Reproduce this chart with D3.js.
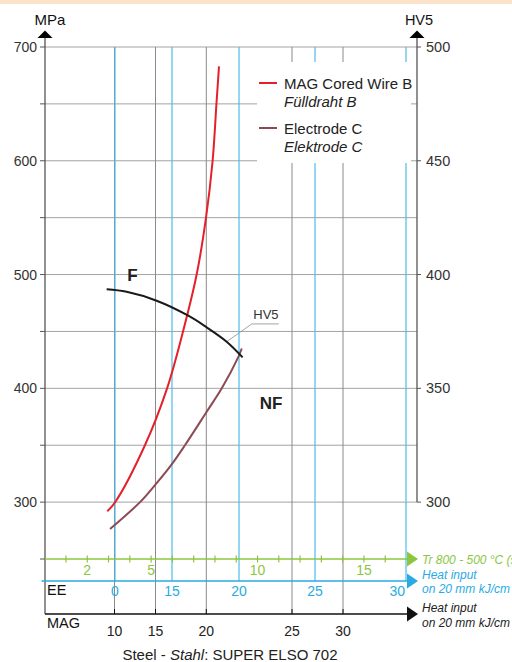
<!DOCTYPE html>
<html>
<head>
<meta charset="utf-8">
<script src="https://cdn.jsdelivr.net/npm/d3@7"></script>
<style>
  body { margin: 0; background: #fff; }
  svg { display: block; font-family: "Liberation Sans", Arial, Helvetica, sans-serif; }
</style>
</head>
<body>
<div id="chart"></div>
<script>
// tick values
const mpaTicks = [250, 300, 350, 400, 450, 500, 550, 600, 650, 700];
const mpaLabels = [300, 400, 500, 600, 700];
const hvLabels = [300, 350, 400, 450, 500];
const trTicks = [1, 2, 3, 4, 5, 6, 7, 8, 9, 10, 11, 12, 13, 14, 15, 16];
const trLabels = [2, 5, 10, 15];
const eeTicks = [0, 15, 20, 25, 30];
const magTicks = [10, 15, 20, 25, 30];

// curves: [Tr 800-500 (s), value]
const coredWireB = [[2.94, 292], [3.3, 299.7], [4.71, 350], [5.75, 400], [6.5, 450],
  [7.14, 500], [7.58, 550], [7.89, 600], [8.07, 650], [8.19, 683]];
const electrodeC = [[3.07, 276.3], [4.48, 300], [5.18, 314.9], [5.94, 332.5], [6.59, 350],
  [7.61, 379.4], [8.32, 400], [9.1, 427.7], [9.26, 435]];
const hardness = [[2.91, 393.5], [3.85, 392.4], [5.26, 388.5], [6.75, 381.9], [7.61, 376.8],
  [8.55, 370.5], [9.3, 363.6]];

const legendItems = [
  { name: 'MAG Cored Wire B', de: 'Fülldraht B', color: '#e5202a' },
  { name: 'Electrode C', de: 'Elektrode C', color: '#8c4a53' },
];

const W = 512, H = 662;
const green = '#8cc63f', blue = '#29abe2', gridGray = '#a3a3a3';

const svg = d3.select('#chart').append('svg').attr('width', W).attr('height', H);

svg.append('rect').attr('x', 0).attr('y', 0).attr('width', W).attr('height', 4).attr('fill', '#fbe4ca');

const xL = 45, xR = 417;
const y = d3.scaleLinear().domain([250, 700]).range([559, 47]);
const yHV = d3.scaleLinear().domain([275, 500]).range([559, 47]);
const xTr = d3.scaleLinear().domain([0, 17]).range([44.7, 406.5]);
const xEE = d3.scaleLinear().domain(eeTicks).range([115, 172, 239, 315, 406]);
const xMAG = d3.scaleLinear().domain(magTicks).range([114.5, 155.5, 206.3, 292, 343]);

const yEE = 581, yMAG = 614;

// horizontal grid
svg.append('g').selectAll('line').data(mpaTicks.filter(d => d > 250)).join('line')
  .attr('x1', xL).attr('x2', xR).attr('y1', d => y(d)).attr('y2', d => y(d))
  .attr('stroke', gridGray).attr('stroke-width', 1);

// vertical gray lines (MAG)
svg.append('g').selectAll('line').data(magTicks).join('line')
  .attr('x1', d => xMAG(d)).attr('x2', d => xMAG(d)).attr('y1', y(700)).attr('y2', yMAG)
  .attr('stroke', '#8a8a8a').attr('stroke-width', 1);

// vertical blue lines (EE)
svg.append('g').selectAll('line').data(eeTicks).join('line')
  .attr('x1', d => xEE(d)).attr('x2', d => xEE(d)).attr('y1', y(700)).attr('y2', yEE)
  .attr('stroke', '#4dbde9').attr('stroke-width', 1.2);

// legend box hides the grid
svg.append('rect').attr('x', 257).attr('y', 62).attr('width', 154).attr('height', 101).attr('fill', '#fff');

// left axis
svg.append('line').attr('x1', xL).attr('x2', xL).attr('y1', 37).attr('y2', yMAG).attr('stroke', '#555').attr('stroke-width', 1.3);
svg.append('g').selectAll('line').data(mpaTicks).join('line')
  .attr('x1', xL - 5).attr('x2', xL).attr('y1', d => y(d)).attr('y2', d => y(d)).attr('stroke', '#555');
svg.append('g').selectAll('text').data(mpaLabels).join('text')
  .attr('x', 37).attr('y', d => y(d) + 5).attr('text-anchor', 'end')
  .attr('font-size', 14).attr('fill', '#333').text(d => d);
svg.append('path').attr('d', `M${xL},30.5L${xL - 7.5},38L${xL + 7.5},38Z`).attr('fill', '#000');
svg.append('text').attr('x', 50).attr('y', 25).attr('text-anchor', 'middle').attr('font-size', 15).attr('fill', '#111').text('MPa');

// right axis
svg.append('line').attr('x1', xR).attr('x2', xR).attr('y1', 37).attr('y2', yHV(300)).attr('stroke', '#555').attr('stroke-width', 1.3);
svg.append('g').selectAll('line').data(hvLabels).join('line')
  .attr('x1', xR).attr('x2', xR + 4).attr('y1', d => yHV(d)).attr('y2', d => yHV(d)).attr('stroke', '#555');
svg.append('g').selectAll('text').data(hvLabels).join('text')
  .attr('x', 426).attr('y', d => yHV(d) + 5)
  .attr('font-size', 14.5).attr('fill', '#333').text(d => d);
svg.append('path').attr('d', `M${xR},30.5L${xR - 7.5},38L${xR + 7.5},38Z`).attr('fill', '#000');
svg.append('text').attr('x', 419).attr('y', 25).attr('text-anchor', 'middle').attr('font-size', 14.5).attr('fill', '#111').text('HV5');

// green Tr axis
const yTr = y(250);
svg.append('line').attr('x1', xL).attr('x2', 409).attr('y1', yTr).attr('y2', yTr).attr('stroke', green).attr('stroke-width', 1.3);
svg.append('g').selectAll('line').data(trTicks).join('line')
  .attr('x1', d => xTr(d)).attr('x2', d => xTr(d)).attr('y1', yTr - 3.5).attr('y2', yTr + 3.5)
  .attr('stroke', green).attr('stroke-width', 1.2);
svg.append('g').selectAll('text').data(trLabels).join('text')
  .attr('x', d => xTr(d)).attr('y', yTr + 16).attr('text-anchor', 'middle')
  .attr('font-size', 14).attr('fill', green).text(d => d);
svg.append('path').attr('d', `M418,${yTr}L407,${yTr - 7.5}L407,${yTr + 7.5}Z`).attr('fill', green);
svg.append('text').attr('x', 422).attr('y', yTr + 4.5).attr('font-size', 12).attr('font-style', 'italic')
  .attr('fill', green).text('Tr 800 - 500 °C (s)');

// blue EE axis
svg.append('line').attr('x1', 41.5).attr('x2', 409).attr('y1', yEE).attr('y2', yEE).attr('stroke', blue).attr('stroke-width', 1.3);
svg.append('g').selectAll('text').data(eeTicks).join('text')
  .attr('x', (d, i) => i === eeTicks.length - 1 ? xEE(d) - 1 : xEE(d)).attr('y', yEE + 15)
  .attr('text-anchor', (d, i) => i === eeTicks.length - 1 ? 'end' : 'middle')
  .attr('font-size', 14).attr('fill', blue).text(d => d);
svg.append('path').attr('d', `M418,${yEE}L407,${yEE - 7.5}L407,${yEE + 7.5}Z`).attr('fill', blue);
svg.append('text').attr('x', 47).attr('y', yEE + 14).attr('font-size', 14.5).attr('fill', '#111').text('EE');
const blueNote = svg.append('text').attr('font-size', 12).attr('font-style', 'italic').attr('fill', blue);
blueNote.append('tspan').attr('x', 422).attr('y', yEE - 2).text('Heat input');
blueNote.append('tspan').attr('x', 422).attr('y', yEE + 12).text('on 20 mm kJ/cm');

// MAG axis
svg.append('line').attr('x1', xL).attr('x2', 409).attr('y1', yMAG).attr('y2', yMAG).attr('stroke', '#111').attr('stroke-width', 1.3);
svg.append('g').selectAll('line').data(magTicks).join('line')
  .attr('x1', d => xMAG(d)).attr('x2', d => xMAG(d)).attr('y1', yMAG - 5).attr('y2', yMAG).attr('stroke', '#111');
svg.append('g').selectAll('text').data(magTicks).join('text')
  .attr('x', d => xMAG(d)).attr('y', yMAG + 22).attr('text-anchor', 'middle')
  .attr('font-size', 14).attr('fill', '#222').text(d => d);
svg.append('path').attr('d', `M418,${yMAG}L407,${yMAG - 7.5}L407,${yMAG + 7.5}Z`).attr('fill', '#111');
svg.append('text').attr('x', 47).attr('y', yMAG + 14).attr('font-size', 14.5).attr('fill', '#111').text('MAG');
const blackNote = svg.append('text').attr('font-size', 12).attr('font-style', 'italic').attr('fill', '#222');
blackNote.append('tspan').attr('x', 422).attr('y', yMAG - 2).text('Heat input');
blackNote.append('tspan').attr('x', 422).attr('y', yMAG + 13).text('on 20 mm kJ/cm');

// curves
const smooth = d3.curveCatmullRom.alpha(0.5);
const lineMPa = d3.line().x(d => xTr(d[0])).y(d => y(d[1])).curve(smooth);
const lineHV = d3.line().x(d => xTr(d[0])).y(d => yHV(d[1])).curve(smooth);

svg.append('path').datum(electrodeC).attr('d', lineMPa)
  .attr('fill', 'none').attr('stroke', legendItems[1].color).attr('stroke-width', 2);
svg.append('path').datum(coredWireB).attr('d', lineMPa)
  .attr('fill', 'none').attr('stroke', legendItems[0].color).attr('stroke-width', 2);

// HV5 leader
const leader = [[8.55, 370.5], [9.73, 378.3], [11.0, 378.3]];
svg.append('path').datum(leader)
  .attr('d', d3.line().x(d => xTr(d[0])).y(d => yHV(d[1])))
  .attr('fill', 'none').attr('stroke', '#999').attr('stroke-width', 0.9);
svg.append('text').attr('x', xTr(9.8)).attr('y', yHV(380.3)).attr('font-size', 13).attr('fill', '#333').text('HV5');

svg.append('path').datum(hardness).attr('d', lineHV)
  .attr('fill', 'none').attr('stroke', '#1a1a1a').attr('stroke-width', 2);

svg.append('text').attr('x', xTr(3.88)).attr('y', y(494)).attr('font-size', 17).attr('font-weight', 'bold').attr('fill', '#222').text('F');
svg.append('text').attr('x', xTr(10.1)).attr('y', y(381.5)).attr('font-size', 17).attr('font-weight', 'bold').attr('fill', '#222').text('NF');

// legend
const lg = svg.append('g').selectAll('g').data(legendItems).join('g')
  .attr('transform', (d, i) => `translate(259,${83 + i * 45})`);
lg.append('line').attr('x1', 0).attr('x2', 18).attr('stroke', d => d.color).attr('stroke-width', 2);
lg.append('text').attr('x', 25).attr('y', 6).attr('font-size', 15).attr('fill', '#222').text(d => d.name);
lg.append('text').attr('x', 25).attr('y', 24).attr('font-size', 15).attr('font-style', 'italic').attr('fill', '#222').text(d => d.de);

// title
const title = svg.append('text').attr('x', 230).attr('y', 660).attr('text-anchor', 'middle')
  .attr('font-size', 15).attr('fill', '#222');
title.append('tspan').text('Steel - ');
title.append('tspan').attr('font-style', 'italic').text('Stahl');
title.append('tspan').text(': SUPER ELSO 702');
</script>
</body>
</html>
